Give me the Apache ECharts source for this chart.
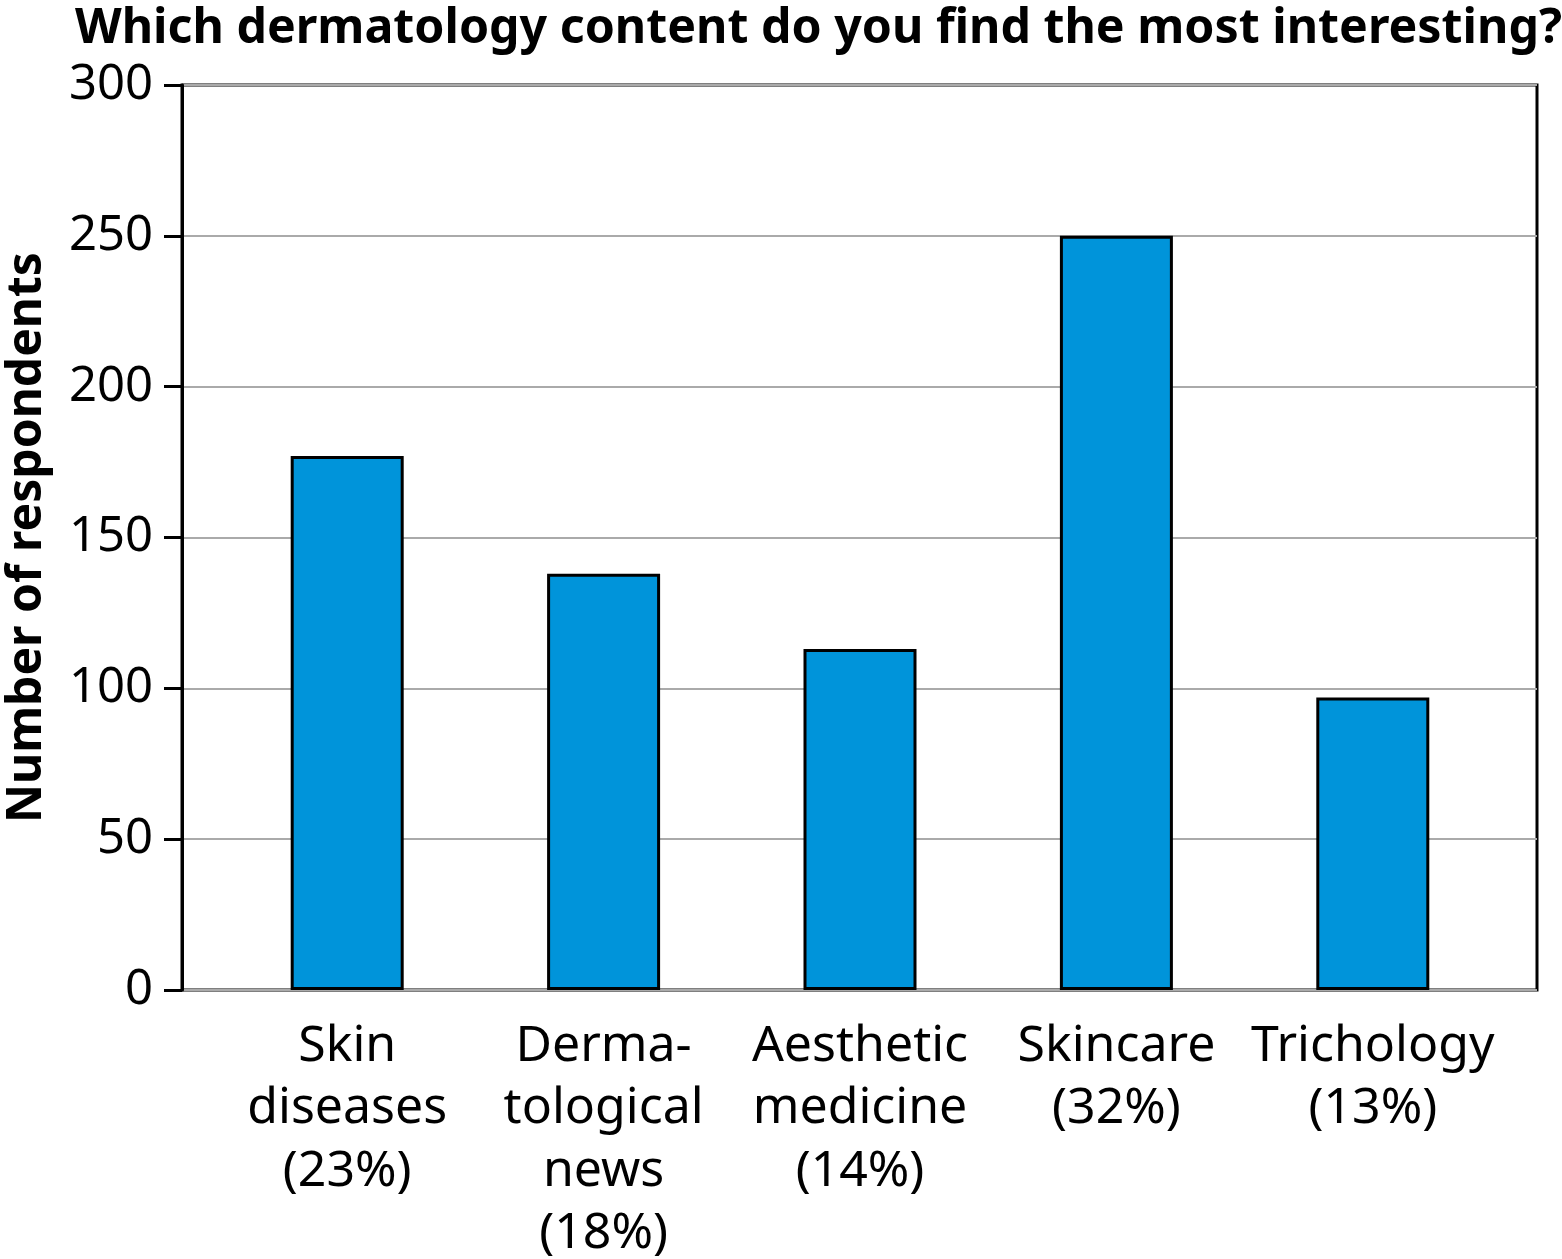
<!DOCTYPE html>
<html><head><meta charset="utf-8">
<script src="https://cdn.jsdelivr.net/npm/echarts@6/dist/echarts.min.js"></script>
<style>html,body{margin:0;padding:0;background:#fff}#c{width:1562px;height:1259px}</style>
</head><body><div id="c"></div>
<script>
const titleText = 'Which dermatology content do you find the most interesting?';
const yAxisName = 'Number of respondents';
const categories = ['Skin\ndiseases\n(23%)', 'Derma-\ntological\nnews\n(18%)', 'Aesthetic\nmedicine\n(14%)', 'Skincare\n(32%)', 'Trichology\n(13%)'];
const values = [177, 138, 113, 250, 97];
const yMin = 0, yMax = 300, yInterval = 50;

const FONT = 'Noto Sans';
const chart = echarts.init(document.getElementById('c'), null, {renderer: 'canvas'});
chart.setOption({
  animation: false,
  backgroundColor: '#fff',
  title: {
    text: titleText, left: 70, top: -4,
    textStyle: {fontFamily: FONT, fontWeight: 'bold', fontSize: 48.3, color: '#000', lineHeight: 56}
  },
  grid: [
    {left: 182, right: 25, top: 85, bottom: 269, show: true, borderColor: '#000', borderWidth: 3, backgroundColor: 'transparent', containLabel: false, outerBoundsMode: 'none'},
    {left: 219, width: 1282, top: 85, bottom: 269, containLabel: false, outerBoundsMode: 'none'}
  ],
  xAxis: [
    {type: 'category', gridIndex: 0, data: categories, show: false},
    {type: 'category', gridIndex: 1, data: categories,
     axisLine: {show: false}, axisTick: {show: false},
     axisLabel: {interval: 0, margin: 25, fontFamily: FONT, fontSize: 50, lineHeight: 62.5, color: '#000', align: 'center'}}
  ],
  yAxis: [
    {type: 'value', gridIndex: 0, min: yMin, max: yMax, interval: yInterval,
     name: yAxisName, nameLocation: 'middle', nameGap: 131,
     nameTextStyle: {fontFamily: FONT, fontWeight: 'bold', fontSize: 48, color: '#000'},
     axisLine: {show: true, lineStyle: {color: '#000', width: 3}},
     axisTick: {show: true, length: 18, lineStyle: {color: '#000', width: 3}},
     axisLabel: {margin: 29, fontFamily: FONT, fontSize: 49, color: '#000'},
     splitLine: {show: true, lineStyle: {color: '#aaaaaa', width: 2}}},
    {type: 'value', gridIndex: 1, min: yMin, max: yMax, interval: yInterval, show: false, splitLine: {show: false}}
  ],
  series: [{
    type: 'bar', xAxisIndex: 1, yAxisIndex: 1, data: values, barWidth: 113,
    itemStyle: {color: '#0094DA', borderColor: '#000', borderWidth: 3}
  }]
});
</script></body></html>
